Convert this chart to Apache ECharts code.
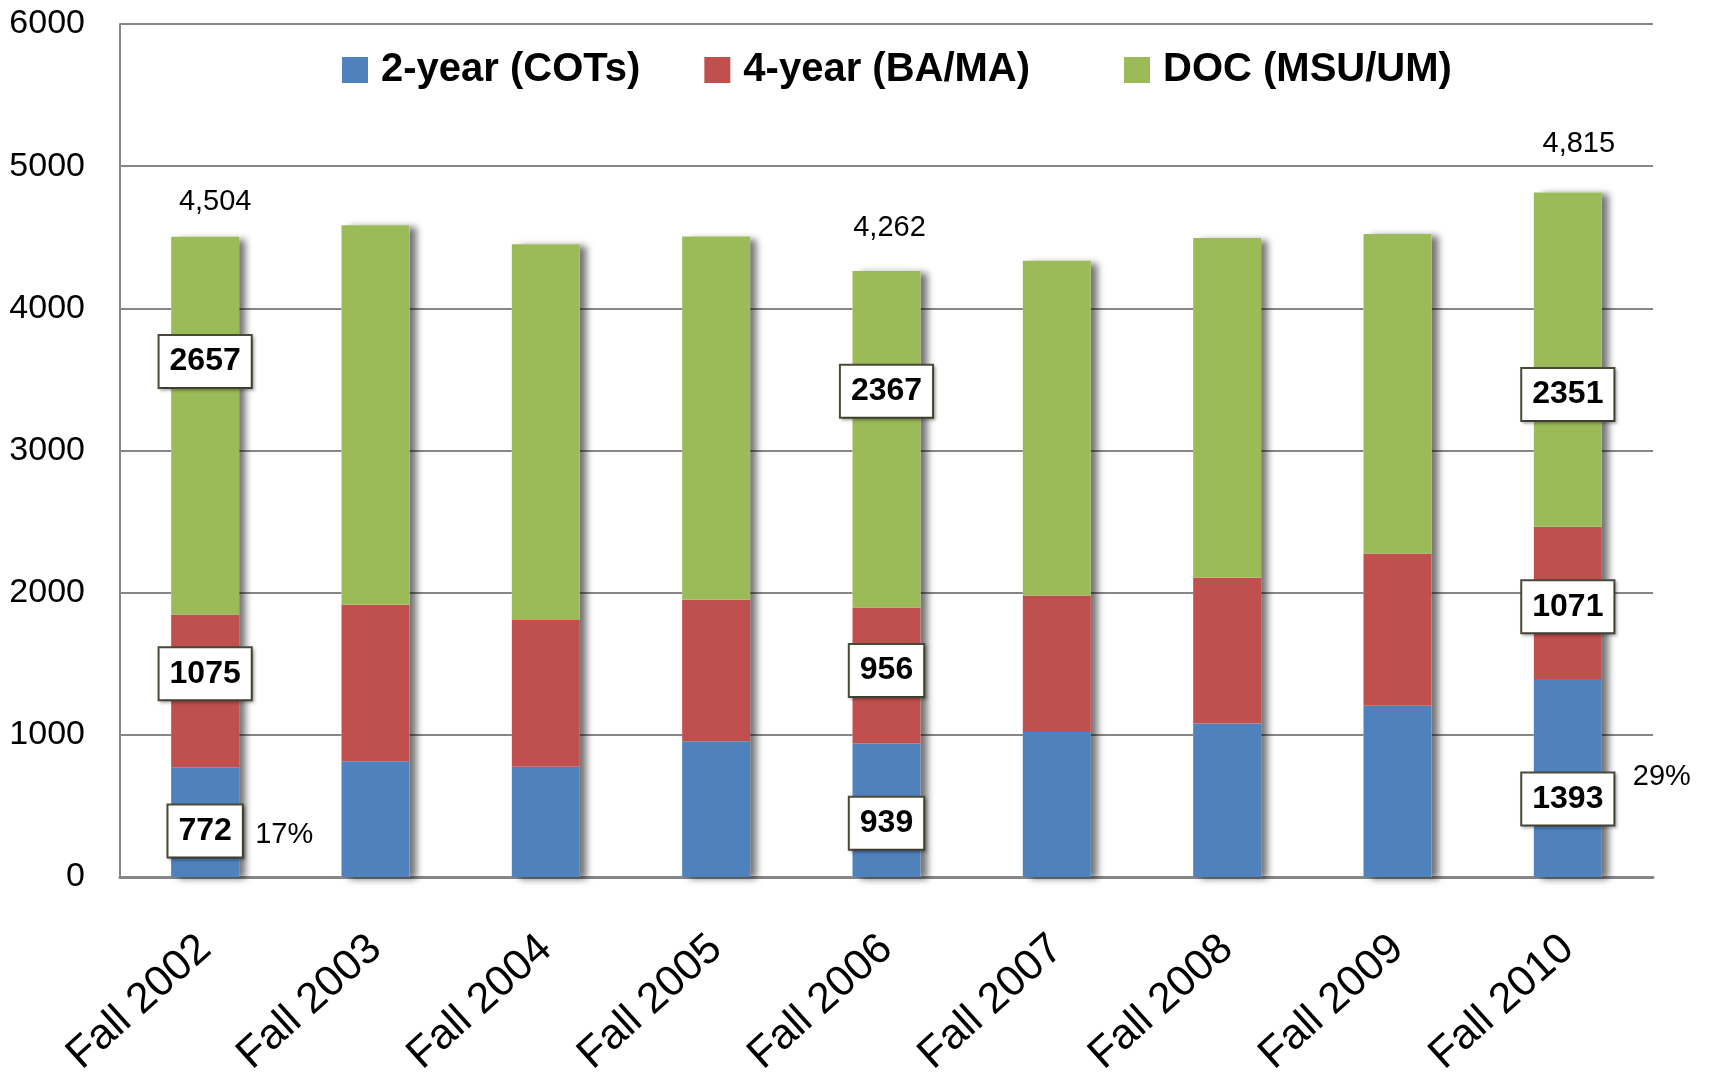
<!DOCTYPE html>
<html>
<head>
<meta charset="utf-8">
<script src="https://cdn.jsdelivr.net/npm/echarts@6/dist/echarts.min.js"></script>
<style>
  html, body { margin: 0; padding: 0; background: #fff; }
  #chart { width: 1709px; height: 1073px; }
</style>
</head>
<body>
<div id="chart"></div>
<script>
const categories = ['Fall 2002', 'Fall 2003', 'Fall 2004', 'Fall 2005', 'Fall 2006', 'Fall 2007', 'Fall 2008', 'Fall 2009', 'Fall 2010'];
const twoYear = [772, 815, 775, 955, 939, 1020, 1080, 1205, 1393];
const fourYear = [1075, 1100, 1033, 995, 956, 960, 1025, 1070, 1071];
const doc = [2657, 2670, 2642, 2555, 2367, 2355, 2390, 2247, 2351];
const seriesNames = ['2-year (COTs)', '4-year (BA/MA)', 'DOC (MSU/UM)'];
const totals = categories.map((c, i) => twoYear[i] + fourYear[i] + doc[i]);

// which bars carry the boxed value labels, totals and shares
const labelled = [0, 4, 8];
const shareShown = [0, 8];

// label nudges (px), only styling
const boxNudge = [
    { 0: 9, 4: 13, 8: 21 },
    { 0: -17, 4: -5, 8: 4 },
    { 0: -64, 4: -48, 8: 35 }
];
const totalNudge = { 0: [10, -15], 4: [3, -24], 8: [11, -29] };
const shareNudge = { 0: [79, 13], 8: [94, -1] };

const colors = ['#4F81BD', '#C0504D', '#9BBB59'];
const font = '"Liberation Sans", Arial, sans-serif';
const barWidth = 68;

const boxLabel = {
    show: true,
    position: 'inside',
    fontFamily: font,
    fontSize: 32,
    fontWeight: 'bold',
    color: '#000',
    backgroundColor: '#fff',
    borderColor: '#4a4a38',
    borderWidth: 2,
    padding: [10, 10, 9, 10],
    shadowColor: 'rgba(0,0,0,0.25)',
    shadowBlur: 3,
    shadowOffsetX: 2,
    shadowOffsetY: 2
};

function stackData(values, k) {
    return values.map((v, i) => {
        if (!labelled.includes(i)) return v;
        return { value: v, label: Object.assign({}, boxLabel, { offset: [0, boxNudge[k][i]] }) };
    });
}

const stacks = [twoYear, fourYear, doc].map((values, k) => ({
    name: seriesNames[k],
    type: 'bar',
    stack: 'total',
    barWidth: barWidth,
    barGap: '-100%',
    z: 3,
    color: colors[k],
    label: { show: false },
    data: stackData(values, k)
}));

// share of 2-year students, shown beside the blue segment
stacks[0].markPoint = {
    symbol: 'rect',
    symbolSize: 0,
    silent: true,
    label: {
        show: true,
        position: 'inside',
        fontFamily: font,
        fontSize: 29,
        color: '#000'
    },
    data: shareShown.map(i => ({
        coord: [i, twoYear[i] / 2],
        label: {
            offset: shareNudge[i],
            formatter: Math.round(twoYear[i] / totals[i] * 100) + '%'
        }
    }))
};

// white backing bar that throws the drop shadow and carries the total
const shadowSeries = {
    name: 'shadow',
    type: 'bar',
    barWidth: barWidth,
    barGap: '-100%',
    z: 2,
    silent: true,
    itemStyle: {
        color: '#fff',
        shadowColor: 'rgba(0,0,0,0.55)',
        shadowBlur: 7,
        shadowOffsetX: 7,
        shadowOffsetY: 2
    },
    label: { show: false },
    data: totals.map((t, i) => {
        if (!labelled.includes(i)) return t;
        return {
            value: t,
            label: {
                show: true,
                position: 'top',
                offset: totalNudge[i],
                fontFamily: font,
                fontSize: 29,
                color: '#000',
                formatter: t.toLocaleString('en-US')
            }
        };
    })
};

const legendBase = {
    top: 45,
    itemWidth: 26,
    itemHeight: 26,
    itemGap: 64,
    icon: 'rect',
    textStyle: {
        fontFamily: font,
        fontSize: 40,
        fontWeight: 'bold',
        color: '#000',
        padding: [0, 0, 0, 8]
    }
};

const option = {
    animation: false,
    backgroundColor: '#fff',
    legend: [
        Object.assign({}, legendBase, { data: seriesNames.slice(0, 2), left: 337 }),
        Object.assign({}, legendBase, { data: seriesNames.slice(2), left: 1119 })
    ],
    grid: {
        left: 120,
        right: 56,
        top: 24,
        bottom: 196,
        outerBoundsMode: 'none'
    },
    xAxis: {
        type: 'category',
        data: categories,
        axisLine: { lineStyle: { color: '#868686', width: 3 } },
        axisTick: { show: false },
        axisLabel: {
            rotate: 42,
            margin: 66,
            fontFamily: font,
            fontSize: 43,
            color: '#000'
        }
    },
    yAxis: {
        type: 'value',
        min: 0,
        max: 6000,
        interval: 1000,
        axisLine: { show: true, lineStyle: { color: '#868686', width: 2 } },
        axisTick: { show: false },
        splitLine: { lineStyle: { color: '#868686', width: 2 } },
        axisLabel: {
            margin: 35,
            fontFamily: font,
            fontSize: 34,
            color: '#000',
            formatter: v => String(v)
        }
    },
    series: [shadowSeries].concat(stacks)
};

const chartDom = document.getElementById('chart');
const myChart = echarts.init(chartDom);
myChart.setOption(option);
window.addEventListener('resize', () => myChart.resize());
</script>
</body>
</html>
